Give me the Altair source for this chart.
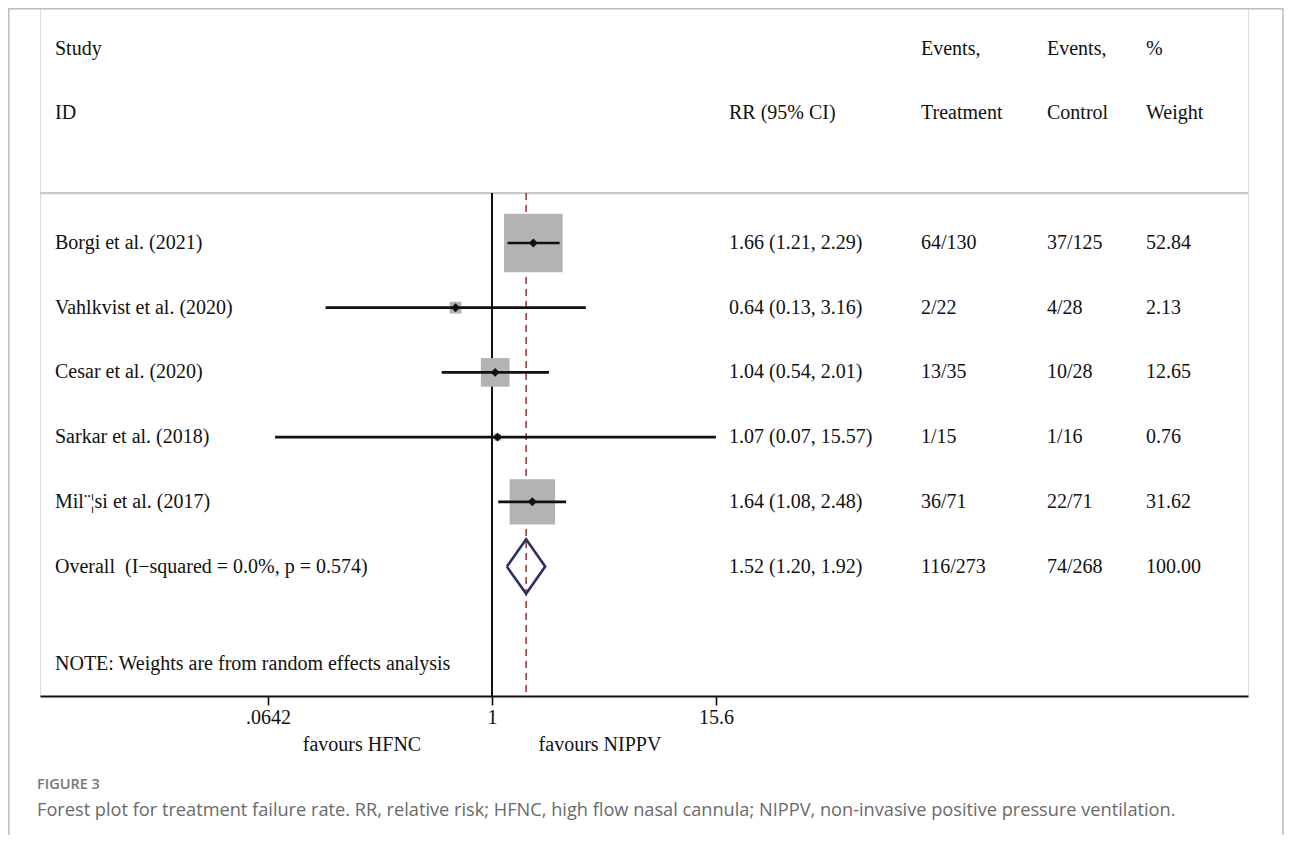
import altair as alt
import pandas as pd

# ---------------- data ----------------
studies = ["Borgi et al. (2021)", "Vahlkvist et al. (2020)", "Cesar et al. (2020)",
           "Sarkar et al. (2018)", "Mil\u00a8\u00a6si et al. (2017)"]
rr = [1.66, 0.64, 1.04, 1.07, 1.64]
ci_lo = [1.21, 0.13, 0.54, 0.07, 1.08]
ci_hi = [2.29, 3.16, 2.01, 15.57, 2.48]
events_t = ["64/130", "2/22", "13/35", "1/15", "36/71"]
events_c = ["37/125", "4/28", "10/28", "1/16", "22/71"]
weights = [52.84, 2.13, 12.65, 0.76, 31.62]

ov_label = "Overall\u00a0 (I\u2212squared = 0.0%, p = 0.574)"
ov_rr, ov_lo, ov_hi = 1.52, 1.20, 1.92
ov_events_t, ov_events_c, ov_weight = "116/273", "74/268", 100.00

header_top = ["Study", "", "Events,", "Events,", "%"]
header_bot = ["ID", "RR (95% CI)", "Treatment", "Control", "Weight"]
note = "NOTE: Weights are from random effects analysis"
tick_values = [0.0642, 1, 15.6]
tick_labels = [".0642", "1", "15.6"]
favours = ["favours HFNC", "favours NIPPV"]
fig_head = "FIGURE 3"
caption = ("Forest plot for treatment failure rate. RR, relative risk; HFNC, high flow nasal "
           "cannula; NIPPV, non-invasive positive pressure ventilation.")

# ---------------- layout ----------------
W, H = 1208, 688
SERIF = "Liberation Serif"
FS = 20
X_DOM = [0.00392, 10607]
Y_DOM = [-2.63, 8.0]
LINE_TOP = 0.23
ov_row = len(studies) + 1

xs = alt.Scale(type="log", domain=X_DOM, nice=False)
ys = alt.Scale(domain=Y_DOM, reverse=True, nice=False, zero=False)

label_expr = " : ".join(
    [f"abs(datum.value - {v}) < {v * 0.01} ? '{l}'" for v, l in zip(tick_values, tick_labels)]
) + " : ''"
xaxis = alt.Axis(values=tick_values, labelExpr=label_expr, title=None, grid=False,
                 domainColor="#111111", domainWidth=2.2, tickColor="#111111", tickWidth=1.6,
                 tickSize=9, labelFont=SERIF, labelFontSize=FS, labelColor="#111111",
                 labelPadding=2, labelFlush=False, labelOverlap=False)


def X(field):
    return alt.X(field, type="quantitative", scale=xs, axis=xaxis)


def Y(field):
    return alt.Y(field, type="quantitative", scale=ys, axis=None)


study_df = pd.DataFrame({
    "row": list(range(1, len(studies) + 1)),
    "study": studies, "rr": rr, "lo": ci_lo, "hi": ci_hi, "w": weights,
})

table = pd.DataFrame({
    "row": list(range(1, len(studies) + 1)) + [ov_row],
    "study": studies + [ov_label],
    "rr_txt": [f"{a:.2f} ({b:.2f}, {c:.2f})" for a, b, c in zip(rr + [ov_rr], ci_lo + [ov_lo], ci_hi + [ov_hi])],
    "et": events_t + [ov_events_t],
    "ec": events_c + [ov_events_c],
    "wt": [f"{w:.2f}" for w in weights + [ov_weight]],
})

col_x = [15, 689, 881, 1007, 1106]
col_fields = ["study", "rr_txt", "et", "ec", "wt"]

headers = pd.DataFrame({
    "row": [-2] * len(header_top) + [-1] * len(header_bot),
    "col": list(range(len(header_top))) + list(range(len(header_bot))),
    "txt": header_top + header_bot,
})

layers = []

# frame
layers.append(alt.Chart(alt.Data(values=[{}])).mark_rect(
    filled=False, stroke="#bdbdbd", strokeWidth=1.5).encode(
    x=alt.value(-31.2), x2=alt.value(W + 35), y=alt.value(0.8), y2=alt.value(900)))

# grey separator under header
layers.append(alt.Chart(pd.DataFrame({"y": [LINE_TOP]})).mark_rule(
    color="#c9c9c9", strokeWidth=2.2).encode(y=Y("y"), x=alt.value(0), x2=alt.value(W)))

# null line at 1
layers.append(alt.Chart(pd.DataFrame({"x": [1.0], "y": [LINE_TOP], "y2": [Y_DOM[1]]})).mark_rule(
    color="#111111", strokeWidth=2).encode(x=X("x"), y=Y("y"), y2="y2:Q"))

# dashed overall line
layers.append(alt.Chart(pd.DataFrame({"x": [ov_rr], "y": [LINE_TOP], "y2": [Y_DOM[1]]})).mark_rule(
    color="#a23a3a", strokeWidth=1.6, strokeDash=[7, 5]).encode(x=X("x"), y=Y("y"), y2="y2:Q"))

# weight boxes
layers.append(alt.Chart(study_df).mark_square(color="#b3b3b3", opacity=1, filled=True).encode(
    x=X("rr"), y=Y("row"),
    size=alt.Size("w:Q", scale=alt.Scale(domain=[0, 100], range=[0, 6500]), legend=None)))

# CI lines
layers.append(alt.Chart(study_df).mark_rule(color="#111111", strokeWidth=2.6).encode(
    x=X("lo"), x2="hi:Q", y=Y("row")))

# point estimates
layers.append(alt.Chart(study_df).mark_point(shape="diamond", filled=True, color="#111111",
                                             size=80, opacity=1).encode(x=X("rr"), y=Y("row")))

# overall diamond
half = 0.42
diamond = pd.DataFrame({
    "x": [ov_lo, ov_rr, ov_hi, ov_rr, ov_lo],
    "y": [ov_row, ov_row - half, ov_row, ov_row + half, ov_row],
    "o": [0, 1, 2, 3, 4],
})
layers.append(alt.Chart(diamond).mark_line(color="#2b2f63", strokeWidth=2.6, strokeJoin="miter").encode(
    x=X("x"), y=Y("y"), order="o:Q"))

# table texts
for cx, f in zip(col_x, col_fields):
    layers.append(alt.Chart(table).mark_text(
        align="left", baseline="middle", font=SERIF, fontSize=FS, color="#111111").encode(
        x=alt.value(cx), y=Y("row"), text=f"{f}:N"))

for i, cx in enumerate(col_x):
    layers.append(alt.Chart(headers[headers["col"] == i]).mark_text(
        align="left", baseline="middle", font=SERIF, fontSize=FS, color="#111111").encode(
        x=alt.value(cx), y=Y("row"), text="txt:N"))

# note
layers.append(alt.Chart(pd.DataFrame({"row": [7.5], "txt": [note]})).mark_text(
    align="left", baseline="middle", font=SERIF, fontSize=FS, color="#111111").encode(
    x=alt.value(15), y=Y("row"), text="txt:N"))

# favours labels
for cx, t in zip([322, 560], favours):
    layers.append(alt.Chart(pd.DataFrame({"row": [8.75], "txt": [t]})).mark_text(
        align="center", baseline="middle", font=SERIF, fontSize=FS, color="#111111").encode(
        x=alt.value(cx), y=Y("row"), text="txt:N"))

# caption
layers.append(alt.Chart(pd.DataFrame({"txt": [fig_head]})).mark_text(
    align="left", baseline="middle", font="Open Sans", fontSize=14.5, fontWeight=600,
    color="#777777").encode(x=alt.value(-3), y=alt.value(777), text="txt:N"))
layers.append(alt.Chart(pd.DataFrame({"txt": [caption]})).mark_text(
    align="left", baseline="middle", font="Open Sans", fontSize=18.2, color="#6a6a6a").encode(
    x=alt.value(-3), y=alt.value(803), text="txt:N"))

chart = alt.layer(*layers).properties(
    width=W, height=H,
    padding={"left": 32, "top": 0, "right": 36, "bottom": 139},
    autosize=alt.AutoSizeParams(type="none"),
).configure_view(stroke=None).configure(background="white")

chart.save("out.html", embed_options={"renderer": "svg", "actions": False})
